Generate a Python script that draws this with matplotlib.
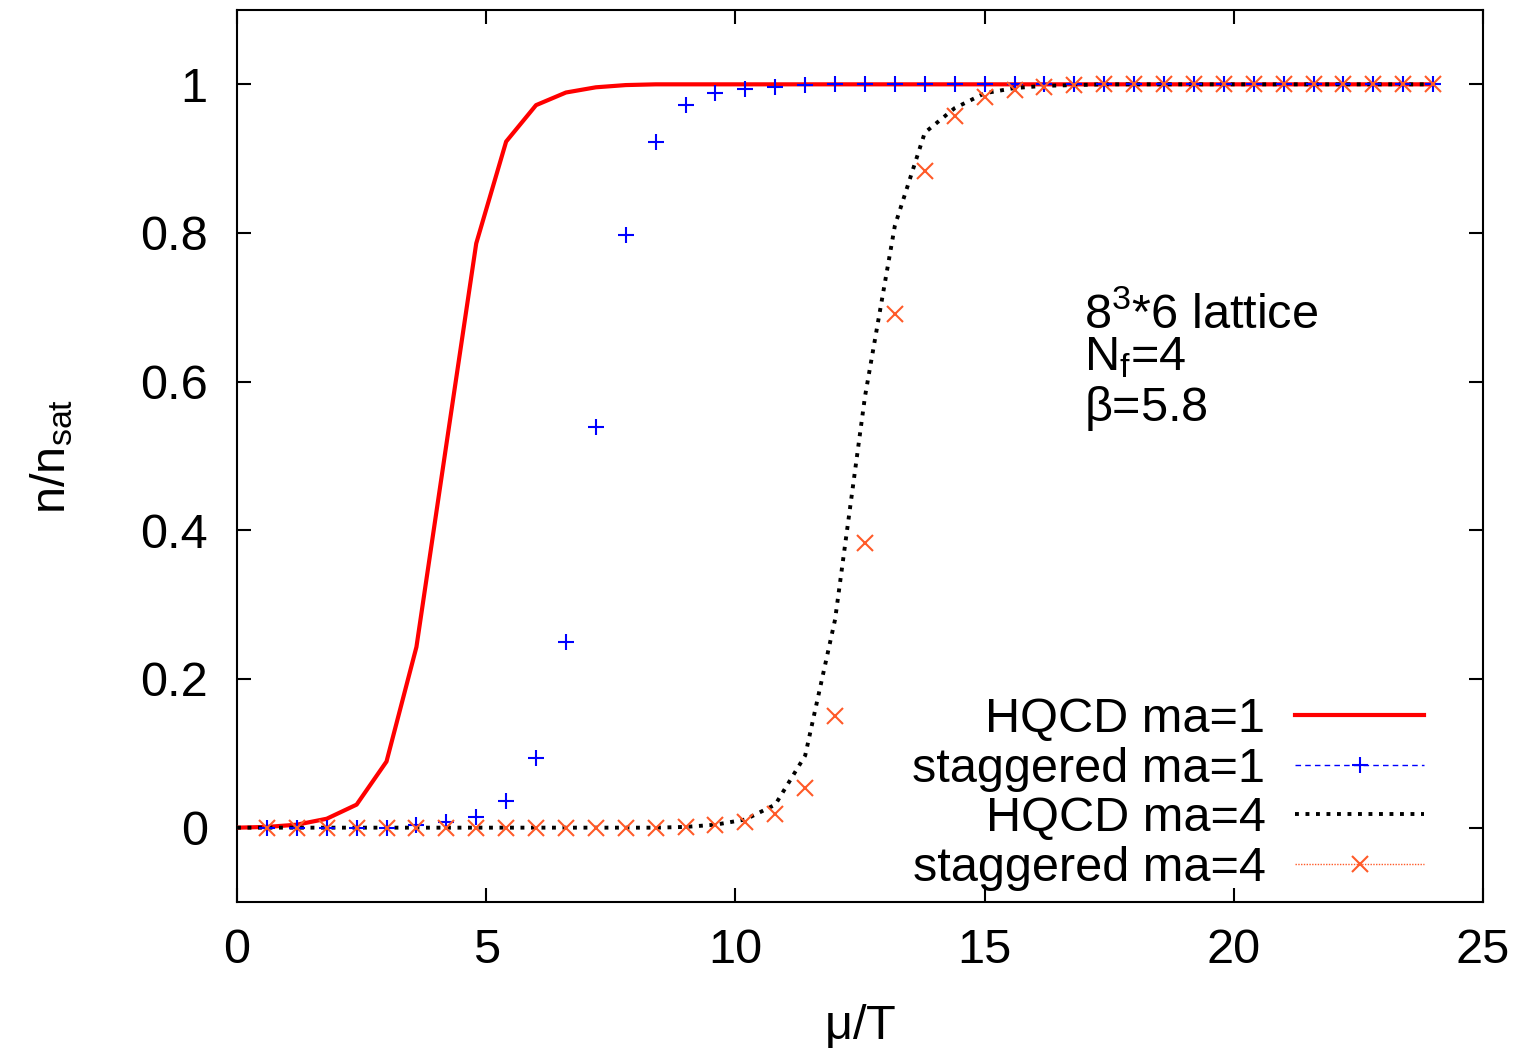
import numpy as np
import matplotlib
matplotlib.use("Agg")
import matplotlib.pyplot as plt
from matplotlib.lines import Line2D

plt.rcParams['font.family'] = ['Liberation Sans', 'DejaVu Sans']
plt.rcParams['mathtext.fontset'] = 'custom'
plt.rcParams['mathtext.rm'] = 'Liberation Sans'
plt.rcParams['mathtext.it'] = 'Liberation Sans:italic'

# mu/T grid for the HQCD curves (starts at 0) and the staggered points (starts at 0.6)
mu_hqcd = [0.0, 0.6, 1.2, 1.8, 2.4, 3.0, 3.6, 4.2, 4.8, 5.4, 6.0, 6.6, 7.2, 7.8, 8.4,
           9.0, 9.6, 10.2, 10.8, 11.4, 12.0, 12.6, 13.2, 13.8, 14.4, 15.0, 15.6, 16.2,
           16.8, 17.4, 18.0, 18.6, 19.2, 19.8, 20.4, 21.0, 21.6, 22.2, 22.8, 23.4, 24.0]
mu_stag = mu_hqcd[1:]

hqcd_ma1 = [0.0, 0.001, 0.004, 0.012, 0.031, 0.089, 0.243, 0.515, 0.786, 0.923, 0.972,
            0.989, 0.996, 0.999, 1.0, 1.0, 1.0, 1.0, 1.0, 1.0, 1.0, 1.0, 1.0, 1.0, 1.0,
            1.0, 1.0, 1.0, 1.0, 1.0, 1.0, 1.0, 1.0, 1.0, 1.0, 1.0, 1.0, 1.0, 1.0, 1.0, 1.0]

hqcd_ma4 = [0.0, 0.0, 0.0, 0.0, 0.0, 0.0, 0.0, 0.0, 0.0, 0.0, 0.0, 0.0, 0.0, 0.0, 0.0,
            0.001, 0.004, 0.011, 0.031, 0.097, 0.28, 0.58, 0.81, 0.935, 0.968, 0.988,
            0.995, 0.998, 0.999, 1.0, 1.0, 1.0, 1.0, 1.0, 1.0, 1.0, 1.0, 1.0, 1.0, 1.0, 1.0]

stag_ma1 = [0.0, 0.0, 0.0, 0.0, 0.0, 0.003, 0.007, 0.014, 0.036, 0.094, 0.25, 0.539,
            0.797, 0.923, 0.972, 0.989, 0.994, 0.997, 0.999, 1.0, 1.0, 1.0, 1.0, 1.0,
            1.0, 1.0, 1.0, 1.0, 1.0, 1.0, 1.0, 1.0, 1.0, 1.0, 1.0, 1.0, 1.0, 1.0, 1.0, 1.0]

stag_ma4 = [0.0, 0.0, 0.0, 0.0, 0.0, 0.0, 0.0, 0.0, 0.0, 0.0, 0.0, 0.0, 0.0, 0.0,
            0.001, 0.003, 0.007, 0.019, 0.054, 0.150, 0.383, 0.691, 0.883, 0.957, 0.983,
            0.993, 0.996, 0.999, 1.0, 1.0, 1.0, 1.0, 1.0, 1.0, 1.0, 1.0, 1.0, 1.0, 1.0, 1.0]

labels = ['HQCD ma=1', 'staggered ma=1', 'HQCD ma=4', 'staggered ma=4']
x_ticks = [0, 5, 10, 15, 20, 25]
y_ticks = [0, 0.2, 0.4, 0.6, 0.8, 1]
y_ticklabels = ['0', '0.2', '0.4', '0.6', '0.8', '1']

ORANGE = '#ff5a28'
FS = 35
DOTS = (0, (1, 1.7))

fig = plt.figure(figsize=(15.2, 10.48), dpi=100)
ax = fig.add_axes([237 / 1520, 1 - 902 / 1048, 1246 / 1520, 892 / 1048])

ax.plot(mu_hqcd, hqcd_ma1, color='red', lw=3.0, zorder=3)
ax.plot(mu_stag, stag_ma1, ls='none', marker='+', ms=12, mew=1.5, color='blue', zorder=4)
ax.plot(mu_hqcd, hqcd_ma4, color='black', lw=2.8, ls=DOTS, zorder=3)
ax.plot(mu_stag, stag_ma4, ls='none', marker='x', ms=11, mew=1.5, color=ORANGE, zorder=4)

ax.set_xlim(0, 25)
ax.set_ylim(-0.1, 1.1)
ax.set_xticks(x_ticks)
ax.set_yticks(y_ticks)
ax.set_yticklabels(y_ticklabels)
ax.tick_params(direction='in', top=True, right=True, length=10, width=1.5,
               labelsize=FS, pad=21)
ax.tick_params(axis='x', pad=19)
for s in ax.spines.values():
    s.set_linewidth(1.5)

ax.set_xlabel(r'$\mathrm{\mu/T}$', fontsize=FS)
ax.set_ylabel(r'n/n$_\mathrm{sat}$', fontsize=FS)
ax.xaxis.set_label_coords(0.5, -0.112)
ax.yaxis.set_label_coords(-0.13, 0.5)

# annotation block
ax.text(17.0, 0.672, r'$\mathrm{8^3}$*6 lattice', fontsize=FS, va='baseline')
ax.text(17.0, 0.616, r'N$_\mathrm{f}$=4', fontsize=FS, va='baseline')
ax.text(17.0, 0.547, r'$\mathrm{\beta}$=5.8', fontsize=FS, va='baseline')

handles = [
    Line2D([], [], color='red', lw=3.0),
    Line2D([], [], color='blue', lw=1.0, ls=(0, (4, 3)), marker='+', ms=12, mew=1.5),
    Line2D([], [], color='black', lw=2.8, ls=DOTS),
    Line2D([], [], color=ORANGE, lw=1.0, ls=(0, (1, 1)), marker='x', ms=11, mew=1.5),
]
ax.legend(handles, labels, loc='lower right', bbox_to_anchor=(0.953, 0.012),
          frameon=False, markerfirst=False, numpoints=1, fontsize=FS,
          handlelength=2.67, handletextpad=0.6, labelspacing=0.1, borderpad=0,
          borderaxespad=0)

fig.savefig('out.png', dpi=100)
